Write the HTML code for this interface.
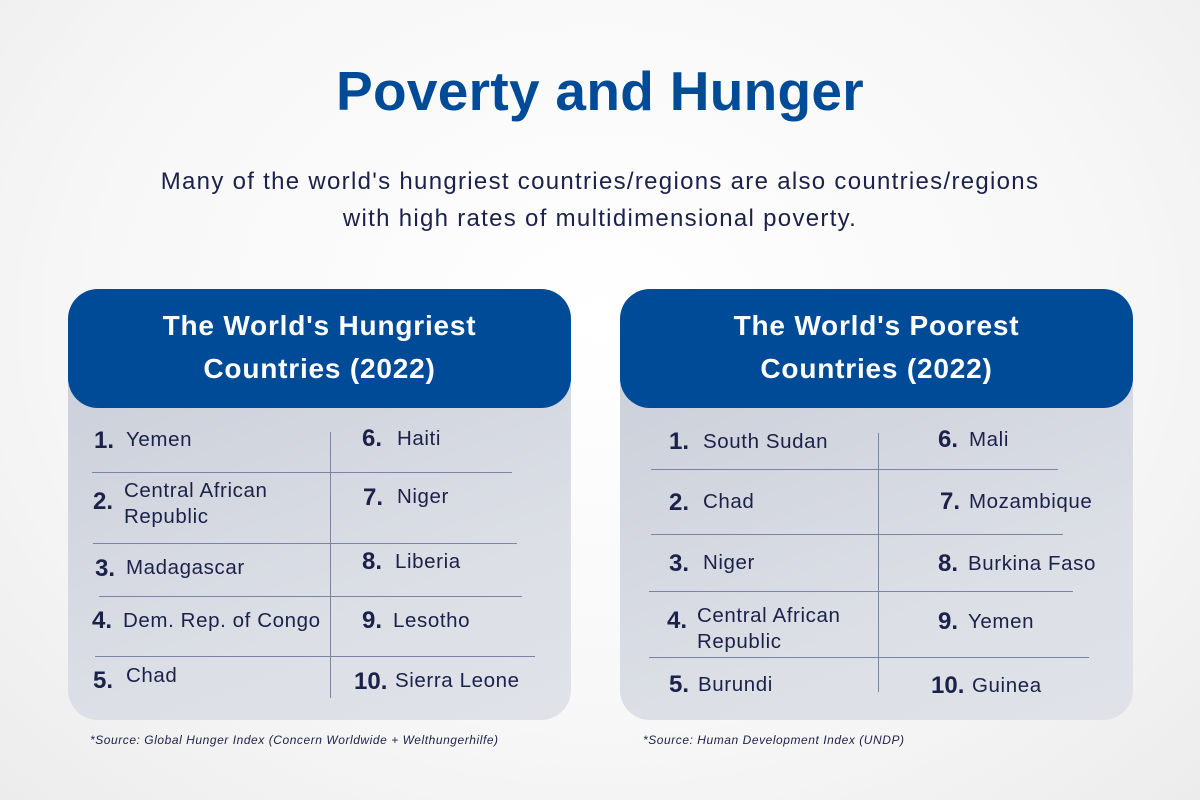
<!DOCTYPE html>
<html><head><meta charset="utf-8"><style>
body{margin:0;width:1200px;height:800px;overflow:hidden;background:radial-gradient(ellipse at 50% 40%,#ffffff 0%,#f7f7f7 60%,#ececec 100%);font-family:"Liberation Sans",sans-serif;color:#1b2148;position:relative}
h1{position:absolute;left:0;width:1200px;top:59px;margin:0;text-align:center;font-size:55px;font-weight:bold;color:#004b97;letter-spacing:0.3px}
.sub{position:absolute;left:0;width:1200px;top:163px;text-align:center;font-size:24px;line-height:37px;letter-spacing:1.3px;color:#1b2148}
.card{position:absolute;top:289px;height:431px;border-radius:30px;background:linear-gradient(160deg,#c8ccd7,#dcdfe6 70%,#e0e2e8)}
.hd{position:absolute;left:0;top:0;right:0;height:119px;border-radius:30px;background:#004b97;color:#fff;font-weight:bold;font-size:28px;letter-spacing:0.8px;text-align:center;line-height:43px;padding-top:15px;box-sizing:border-box}
.n{position:absolute;font-weight:bold;font-size:24px;transform:translateY(-50%)}
.t{position:absolute;font-size:20.5px;letter-spacing:0.6px;transform:translateY(-50%);line-height:26px;white-space:nowrap}
.h{position:absolute;height:1px;background:#7c84a6}
.v{position:absolute;width:1px;background:#7c84a6}
.src{position:absolute;font-size:12px;letter-spacing:0.55px;font-style:italic;color:#1b2148;white-space:nowrap}
</style></head><body>
<h1>Poverty and Hunger</h1>
<div class="sub">Many of the world's hungriest countries/regions are also countries/regions<br>with high rates of multidimensional poverty.</div>

<div class="card" style="left:68px;width:503px"><div class="hd">The World's Hungriest<br>Countries (2022)</div></div>
<div class="card" style="left:620px;width:513px"><div class="hd">The World's Poorest<br>Countries (2022)</div></div>

<div class="h" style="left:92px;width:420px;top:472px"></div>
<div class="h" style="left:93px;width:424px;top:543px"></div>
<div class="h" style="left:99px;width:423px;top:596px"></div>
<div class="h" style="left:95px;width:440px;top:656px"></div>
<div class="v" style="left:330px;top:432px;height:266px"></div>

<div class="n" style="left:94px;top:441px">1.</div><div class="t" style="left:126px;top:440px">Yemen</div>
<div class="n" style="left:93px;top:502px">2.</div><div class="t" style="left:124px;top:504px">Central African<br>Republic</div>
<div class="n" style="left:95px;top:569px">3.</div><div class="t" style="left:126px;top:568px">Madagascar</div>
<div class="n" style="left:92px;top:621px">4.</div><div class="t" style="left:123px;top:621px">Dem. Rep. of Congo</div>
<div class="n" style="left:93px;top:681px">5.</div><div class="t" style="left:126px;top:676px">Chad</div>
<div class="n" style="left:362px;top:439px">6.</div><div class="t" style="left:397px;top:439px">Haiti</div>
<div class="n" style="left:363px;top:498px">7.</div><div class="t" style="left:397px;top:497px">Niger</div>
<div class="n" style="left:362px;top:562px">8.</div><div class="t" style="left:395px;top:562px">Liberia</div>
<div class="n" style="left:362px;top:621px">9.</div><div class="t" style="left:393px;top:621px">Lesotho</div>
<div class="n" style="left:354px;top:682px">10.</div><div class="t" style="left:395px;top:681px">Sierra Leone</div>

<div class="h" style="left:651px;width:407px;top:469px"></div>
<div class="h" style="left:651px;width:412px;top:534px"></div>
<div class="h" style="left:649px;width:424px;top:591px"></div>
<div class="h" style="left:649px;width:440px;top:657px"></div>
<div class="v" style="left:878px;top:433px;height:259px"></div>

<div class="n" style="left:669px;top:442px">1.</div><div class="t" style="left:703px;top:442px">South Sudan</div>
<div class="n" style="left:669px;top:503px">2.</div><div class="t" style="left:703px;top:502px">Chad</div>
<div class="n" style="left:669px;top:564px">3.</div><div class="t" style="left:703px;top:563px">Niger</div>
<div class="n" style="left:667px;top:621px">4.</div><div class="t" style="left:697px;top:629px">Central African<br>Republic</div>
<div class="n" style="left:669px;top:685px">5.</div><div class="t" style="left:698px;top:685px">Burundi</div>
<div class="n" style="left:938px;top:440px">6.</div><div class="t" style="left:969px;top:440px">Mali</div>
<div class="n" style="left:940px;top:502px">7.</div><div class="t" style="left:969px;top:502px">Mozambique</div>
<div class="n" style="left:938px;top:564px">8.</div><div class="t" style="left:968px;top:564px">Burkina Faso</div>
<div class="n" style="left:938px;top:622px">9.</div><div class="t" style="left:968px;top:622px">Yemen</div>
<div class="n" style="left:931px;top:686px">10.</div><div class="t" style="left:972px;top:686px">Guinea</div>

<div class="src" style="left:90px;top:733px">*Source: Global Hunger Index (Concern Worldwide + Welthungerhilfe)</div>
<div class="src" style="left:643px;top:733px">*Source: Human Development Index (UNDP)</div>
</body></html>
